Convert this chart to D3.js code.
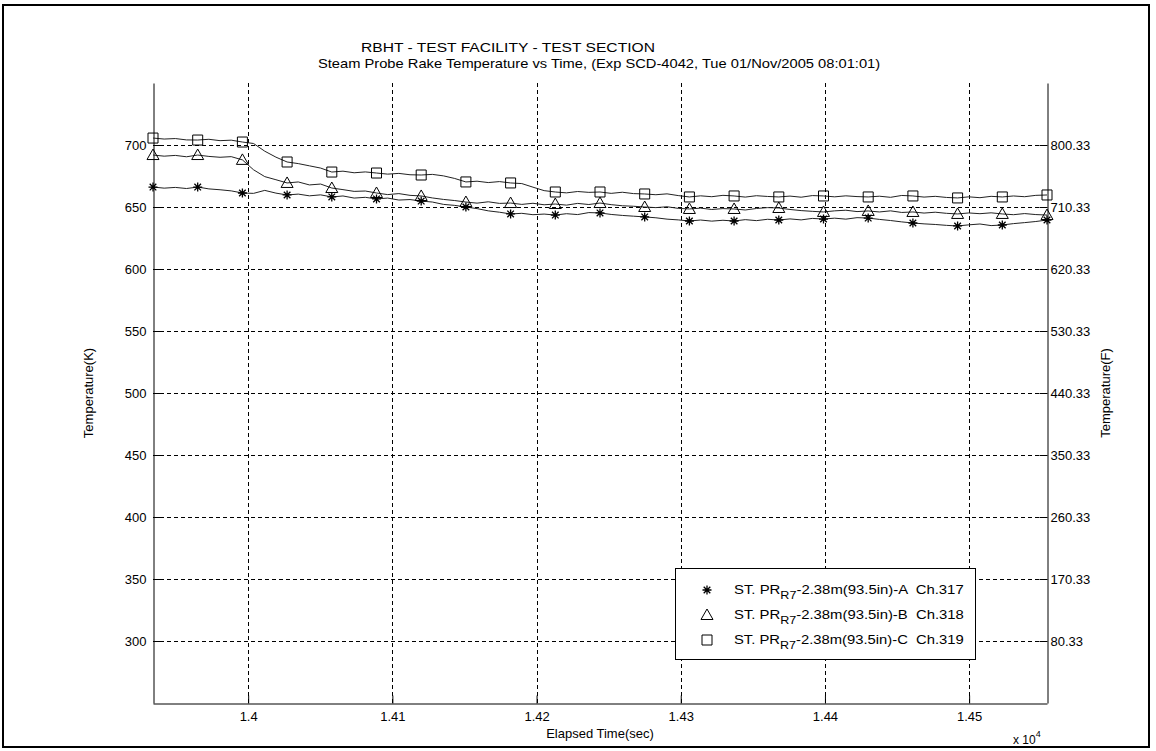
<!DOCTYPE html>
<html>
<head>
<meta charset="utf-8">
<script src="https://cdn.jsdelivr.net/npm/d3@7"></script>
<style>
  html, body { margin: 0; padding: 0; background: #fff; }
  svg { display: block; }
  text { font-family: "Liberation Sans", Arial, sans-serif; fill: #000; white-space: pre; }
</style>
</head>
<body>
<svg id="chart" width="1156" height="751"></svg>
<script>
// ---------------- DATA ----------------
const titleLines = [
  "RBHT - TEST FACILITY - TEST SECTION",
  "Steam Probe Rake Temperature vs Time, (Exp SCD-4042, Tue 01/Nov/2005 08:01:01)"
];
const xLabel = "Elapsed Time(sec)";
const yLabelLeft = "Temperature(K)";
const yLabelRight = "Temperature(F)";

const xTicks = [14000, 14100, 14200, 14300, 14400, 14500];
const yTicks = [300, 350, 400, 450, 500, 550, 600, 650, 700];
const xDomain = [13934, 14554];
const yDomain = [250, 750];

const time = [13934, 13941.75, 13949.5, 13957.25, 13965, 13972.75, 13980.5, 13988.25, 13996, 14003.75,
  14011.5, 14019.25, 14027, 14034.75, 14042.5, 14050.25, 14058, 14065.75, 14073.5, 14081.25,
  14089, 14096.75, 14104.5, 14112.25, 14120, 14127.75, 14135.5, 14143.25, 14151, 14158.75,
  14166.5, 14174.25, 14182, 14189.75, 14197.5, 14205.25, 14213, 14220.75, 14228.5, 14236.25,
  14244, 14251.75, 14259.5, 14267.25, 14275, 14282.75, 14290.5, 14298.25, 14306, 14313.75,
  14321.5, 14329.25, 14337, 14344.75, 14352.5, 14360.25, 14368, 14375.75, 14383.5, 14391.25,
  14399, 14406.75, 14414.5, 14422.25, 14430, 14437.75, 14445.5, 14453.25, 14461, 14468.75,
  14476.5, 14484.25, 14492, 14499.75, 14507.5, 14515.25, 14523, 14530.75, 14538.5, 14546.25, 14554];

// Ch.317 (A, star)
const seriesA = [666.1, 665.2, 665.8, 664.9, 666.1, 664.6, 663.9, 663.0, 661.3, 661.0,
  663.4, 661.2, 659.7, 660.4, 659.0, 659.8, 658.1, 658.9, 657.2, 657.8,
  656.5, 657.2, 655.6, 656.0, 654.8, 654.0, 652.1, 651.3, 650.0, 648.7,
  646.9, 645.8, 644.4, 644.9, 643.8, 644.3, 643.5, 644.6, 643.9, 645.5,
  645.2, 644.0, 643.2, 642.6, 642.0, 641.3, 640.2, 639.6, 638.7, 639.5,
  638.6, 639.3, 638.7, 639.8, 639.0, 640.1, 639.5, 640.4, 639.6, 640.8,
  640.3, 641.0, 640.2, 641.4, 641.1, 640.0, 639.1, 638.0, 637.1, 636.4,
  635.9, 635.2, 634.7, 635.6, 636.3, 635.0, 635.5, 636.6, 637.4, 638.3, 639.5];

// Ch.318 (B, triangle)
const seriesB = [691.9, 691.0, 691.6, 690.5, 691.9, 690.8, 690.1, 690.6, 688.0, 680.0,
  674.5, 672.0, 669.4, 670.2, 667.8, 668.5, 665.3, 664.0, 662.6, 662.9,
  661.3, 660.0, 660.8, 659.4, 658.9, 657.3, 656.1, 655.2, 654.0, 653.1,
  654.2, 652.9, 653.2, 652.1, 653.0, 651.8, 652.4, 651.5, 652.9, 652.0,
  653.2, 651.9, 651.0, 650.6, 650.0, 649.5, 650.2, 648.9, 648.4, 649.1,
  648.0, 648.7, 648.4, 647.6, 648.8, 649.5, 649.2, 648.0, 647.1, 646.5,
  646.0, 646.9, 647.4, 646.3, 646.8, 646.0, 646.9, 645.6, 646.0, 645.1,
  645.8, 644.9, 644.4, 645.2, 644.6, 645.3, 644.4, 643.8, 644.7, 643.9, 643.5];

// Ch.319 (C, square)
const seriesC = [705.6, 704.8, 705.2, 704.1, 704.0, 704.6, 703.5, 703.9, 702.4, 701.2,
  695.0, 690.2, 686.3, 685.0, 683.2, 681.4, 678.2, 678.9, 677.6, 678.3,
  677.4, 676.5, 677.1, 676.0, 675.8, 676.3, 675.1, 673.0, 670.2, 670.8,
  669.7, 670.5, 669.4, 668.9, 666.0, 663.2, 662.1, 661.4, 662.5, 661.8,
  662.1, 661.0, 661.9, 660.8, 660.5, 659.9, 660.6, 659.2, 658.1, 659.0,
  658.3, 659.4, 658.9, 658.0, 659.1, 658.5, 658.1, 658.8, 657.9, 659.2,
  658.9, 658.2, 659.0, 658.4, 658.1, 658.7, 657.8, 659.3, 658.9, 658.0,
  658.6, 657.7, 657.3, 658.2, 657.5, 658.6, 658.1, 658.9, 658.3, 659.4, 659.7];

const markerEvery = 4;
const legendLabels = ["-2.38m(93.5in)-A  Ch.317", "-2.38m(93.5in)-B  Ch.318", "-2.38m(93.5in)-C  Ch.319"];
const legendPrefix = "ST. PR";
const legendSub = "R7";
const markerTypes = ["star", "triangle", "square"];

// ---------------- LAYOUT ----------------
const svg = d3.select("#chart");
const L = 153, R = 1047, T = 83, B = 703;
const FS = 13;

const x = d3.scaleLinear().domain(xDomain).range([L, R]);
const y = d3.scaleLinear().domain(yDomain).range([B, T]);
const toF = k => ((k - 273.15) * 1.8 + 32).toFixed(2);

// stretch a text horizontally so it spans a target width starting at x0
function stretch(sel, x0, targetW) {
  const w = sel.node().getBBox().width;
  if (w > 0) sel.attr("transform", `translate(${x0},0) scale(${targetW / w},1) translate(${-x0},0)`);
}

// outer figure border
svg.append("rect").attr("x", 3).attr("y", 5).attr("width", 1146).attr("height", 742)
  .attr("fill", "none").attr("stroke", "#000").attr("stroke-width", 2);

// grid
const grid = svg.append("g").attr("stroke", "#000").attr("stroke-width", 1).attr("stroke-dasharray", "4,3");
grid.selectAll("line.v").data(xTicks).join("line")
  .attr("x1", d => Math.round(x(d)) + 0.5).attr("x2", d => Math.round(x(d)) + 0.5)
  .attr("y1", T).attr("y2", B);
grid.selectAll("line.h").data(yTicks).join("line")
  .attr("y1", d => Math.round(y(d)) + 0.5).attr("y2", d => Math.round(y(d)) + 0.5)
  .attr("x1", L).attr("x2", R);

// axes
function styleAxis(g) {
  g.selectAll("path.domain").attr("stroke", "#000").attr("stroke-width", 1);
  g.selectAll(".tick line").attr("stroke", "#000");
  g.selectAll(".tick text").attr("font-size", FS).attr("font-family", "Liberation Sans, Arial, sans-serif").attr("fill", "#000");
}
svg.append("g").attr("transform", `translate(${L + 0.5},0)`)
  .call(d3.axisLeft(y).tickValues(yTicks).tickSizeInner(-8).tickSizeOuter(0).tickPadding(7))
  .call(styleAxis);
svg.append("g").attr("transform", `translate(${R + 0.5},0)`)
  .call(d3.axisRight(y).tickValues(yTicks).tickSizeInner(-8).tickSizeOuter(0).tickPadding(3).tickFormat(toF))
  .call(styleAxis);
svg.append("g").attr("transform", `translate(0,${B + 0.5})`)
  .call(d3.axisBottom(x).tickValues(xTicks).tickSizeInner(-8).tickSizeOuter(0).tickPadding(8)
    .tickFormat(d => String(+(d / 1e4).toFixed(2))))
  .call(styleAxis);

// titles / labels
const t1 = svg.append("text").attr("x", 361).attr("y", 52).attr("font-size", FS).text(titleLines[0]);
stretch(t1, 361, 294);
const t2 = svg.append("text").attr("x", 318).attr("y", 68).attr("font-size", FS).text(titleLines[1]);
stretch(t2, 318, 563);
svg.append("text").attr("x", (L + R) / 2).attr("y", 738).attr("text-anchor", "middle").attr("font-size", FS).text(xLabel);
svg.append("text").attr("transform", `translate(93,${(T + B) / 2}) rotate(-90)`).attr("text-anchor", "middle").attr("font-size", FS).text(yLabelLeft);
svg.append("text").attr("transform", `translate(1110,${(T + B) / 2}) rotate(-90)`).attr("text-anchor", "middle").attr("font-size", FS).text(yLabelRight);
const x10 = svg.append("text").attr("x", 1013).attr("y", 744).attr("font-size", FS - 1);
x10.append("tspan").text("x 10");
x10.append("tspan").attr("dy", -7).attr("font-size", FS - 4).text("4");

// series
const seriesList = [seriesA, seriesB, seriesC];
const line = d3.line().x((d, i) => x(time[i])).y(d => y(d));
const plot = svg.append("g");
seriesList.forEach(s => {
  plot.append("path").datum(s).attr("d", line).attr("fill", "none")
    .attr("stroke", "#222").attr("stroke-width", 1).attr("stroke-linejoin", "round");
});

function markerPath(type) {
  if (type === "star") {
    const r = 4.5, q = 3.3;
    return `M${-r},0L${r},0M0,${-r}L0,${r}M${-q},${-q}L${q},${q}M${-q},${q}L${q},${-q}`;
  }
  if (type === "triangle") {
    return "M0,-6L6,4.5L-6,4.5Z";
  }
  return "M-5,-5L5,-5L5,5L-5,5Z";
}
seriesList.forEach((s, si) => {
  const pts = s.map((v, i) => [time[i], v]).filter((d, i) => i % markerEvery === 0);
  plot.selectAll(null).data(pts).join("path")
    .attr("transform", d => `translate(${x(d[0])},${y(d[1])})`)
    .attr("d", markerPath(markerTypes[si]))
    .attr("fill", "none").attr("stroke", "#000").attr("stroke-width", markerTypes[si] === "star" ? 1.3 : 1);
});

// legend
const lg = svg.append("g");
lg.append("rect").attr("x", 675.5).attr("y", 568.5).attr("width", 300).attr("height", 91)
  .attr("fill", "#fff").attr("stroke", "#000").attr("stroke-width", 1);
const legY = [590, 615, 640];
legendLabels.forEach((lab, i) => {
  lg.append("path").attr("transform", `translate(707,${legY[i]})`)
    .attr("d", markerPath(markerTypes[i])).attr("fill", "none").attr("stroke", "#000")
    .attr("stroke-width", markerTypes[i] === "star" ? 1.3 : 1);
  const t = lg.append("text").attr("x", 734).attr("y", legY[i] + 4).attr("font-size", FS);
  t.append("tspan").text(legendPrefix);
  t.append("tspan").attr("dy", 5).attr("font-size", FS - 2).text(legendSub);
  t.append("tspan").attr("dy", -5).text(lab);
  stretch(t, 734, 230);
});
</script>
</body>
</html>
